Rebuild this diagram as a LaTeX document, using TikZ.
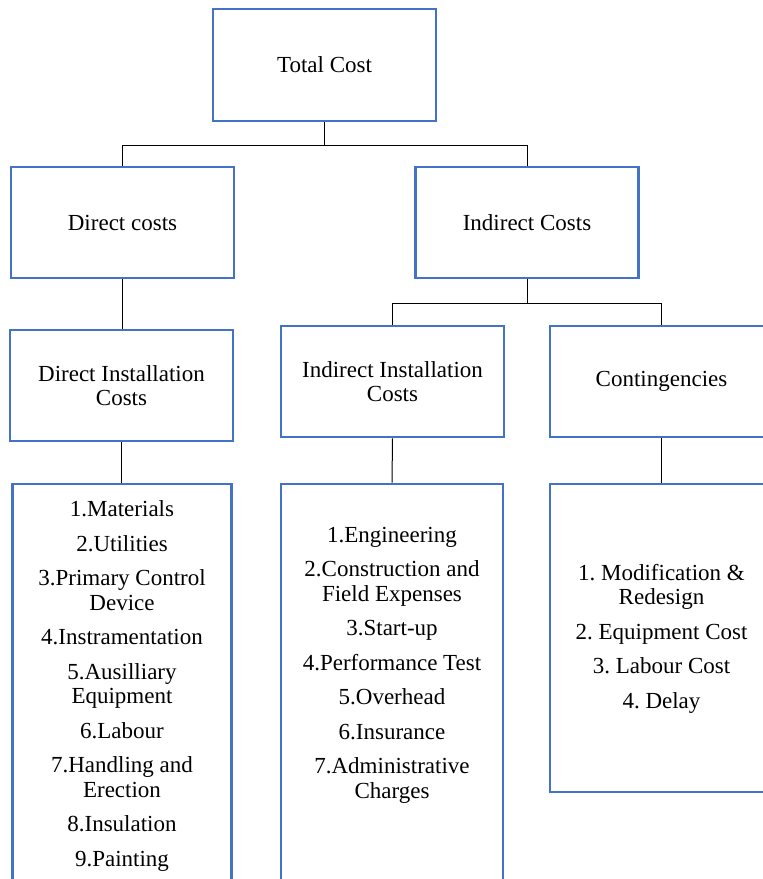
\documentclass[tikz,border=0pt]{standalone}
\usepackage{fontspec}
\setmainfont{Liberation Serif}
\usepackage{tikz}
\definecolor{boxblue}{HTML}{4472C4}

\begin{document}
\begin{tikzpicture}[x=1pt, y=-1pt,
    box/.style={draw=boxblue, line width=2.8pt, minimum width=223pt, minimum height=112pt, align=center, font=\fontsize{23}{24.5}\selectfont\frenchspacing, inner sep=0pt},
    listbox/.style={draw=boxblue, line width=2.8pt, minimum width=#1, inner sep=0pt},
    listtext/.style={anchor=north, align=center, font=\fontsize{23}{24.5}\selectfont\frenchspacing, inner sep=0pt},
    link/.style={draw=black, line width=1pt}]
  \clip (0,0) rectangle (763,879);
  \node[box] (total) at (324.5,65) {Total Cost};
  \node[box, minimum height=111pt] (direct) at (122.5,222.5) {Direct costs};
  \node[box, minimum height=111pt] (indirect) at (527,222.5) {Indirect Costs};
  \node[box, minimum height=111pt] (dinst) at (121.5,385.5) {Direct Installation\\Costs};
  \node[box, minimum height=111pt] (iinst) at (392.5,381.5) {Indirect Installation\\Costs};
  \node[box, minimum height=111pt] (cont) at (661.5,381.5) {Contingencies};
  \node[listbox=219pt, minimum height=416pt] (dlist) at (122,692) {};
  \node[listbox=222pt, minimum height=416pt] (ilist) at (392,692) {};
  \node[listbox=223pt, minimum height=308pt] (clist) at (661.5,638) {};
  \node[listtext] (dtext) at ([yshift=-18pt]dlist.north) {1.Materials\\[10pt]2.Utilities\\[10pt]3.Primary Control\\Device\\[10pt]4.Instramentation\\[10pt]5.Ausilliary\\Equipment\\[10pt]6.Labour\\[10pt]7.Handling and\\Erection\\[10pt]8.Insulation\\[10pt]9.Painting};
  \node[listtext] (itext) at ([yshift=-44pt]ilist.north) {1.Engineering\\[10pt]2.Construction and\\Field Expenses\\[10pt]3.Start-up\\[10pt]4.Performance Test\\[10pt]5.Overhead\\[10pt]6.Insurance\\[10pt]7.Administrative\\Charges};
  \node[listtext] (ctext) at ([yshift=-81pt]clist.north) {1. Modification \&\\Redesign\\[10pt]2. Equipment Cost\\[10pt]3. Labour Cost\\[10pt]4. Delay};
  \draw[link] (total.south) -- ++(0,23) -| (direct.north);
  \draw[link] (total.south) -- ++(0,23) -| (indirect.north);
  \draw[link] (direct.south) -- (direct.south |- dinst.north);
  \draw[link] (indirect.south) -- ++(0,24) -| (iinst.north);
  \draw[link] (indirect.south) -- ++(0,24) -| (cont.north);
  \draw[link] (dinst.south) -- (dinst.south |- dlist.north);
  \draw[link] (iinst.south) -- (ilist.north);
  \draw[link] (cont.south) -- (clist.north);
\end{tikzpicture}
\end{document}
